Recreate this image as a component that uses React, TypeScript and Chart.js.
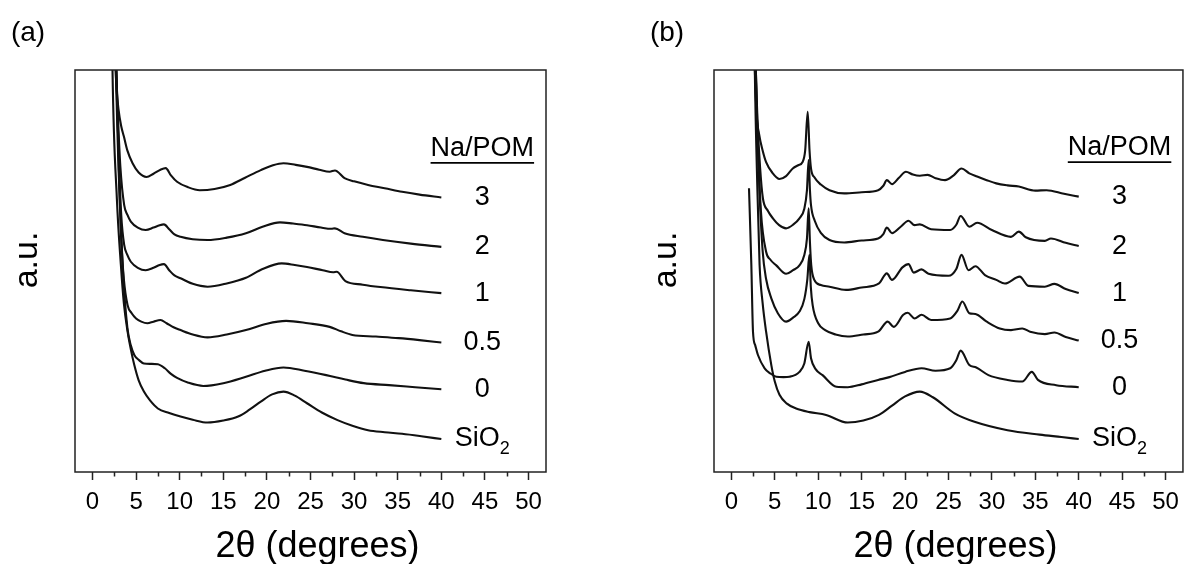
import React, { useEffect, useRef } from 'react';
import { Chart, registerables } from 'chart.js';

Chart.register(...registerables);

type Pt = [number, number];

const FONT = "'Liberation Sans', Arial, sans-serif";

// ---- axis / label text ----
const majorTicks = [0, 5, 10, 15, 20, 25, 30, 35, 40, 45, 50];
const minorTicks = [2.5, 7.5, 12.5, 17.5, 22.5, 27.5, 32.5, 37.5, 42.5, 47.5];
const seriesLabels = ['3', '2', '1', '0.5', '0', 'SiO2'];
const headerLabel = 'Na/POM';
const xTitle = '2θ (degrees)';
const yTitle = 'a.u.';

// ---- panel (a) series: [2θ, intensity a.u.] ----
const a3: Pt[] = [[2.2, 160], [2.5, 110], [2.75, 96], [3.0, 90], [3.3, 86], [3.6, 83.5], [4.0, 80], [4.6, 76.8], [5.3, 74.5], [6.2, 73.4], [7.0, 74.2], [7.8, 75.2], [8.4, 75.6], [9.0, 73.8], [9.7, 72.2], [11.0, 70.8], [12.3, 70.1], [14.0, 70.4], [15.8, 71.4], [17.5, 73.2], [19.3, 75.1], [20.7, 76.3], [21.9, 76.8], [23.3, 76.4], [24.6, 75.9], [26.0, 75.2], [27.2, 74.7], [27.8, 75.0], [28.9, 73.1], [30.0, 72.3], [31.6, 71.4], [33.5, 70.6], [35.5, 69.7], [37.5, 69.0], [40.0, 68.3]];
const a2: Pt[] = [[2.2, 160], [2.6, 110], [2.9, 90], [3.2, 76], [3.64, 66.4], [4.0, 64], [4.4, 62.3], [5.2, 60.8], [6.1, 60.2], [7.0, 60.8], [7.6, 61.3], [8.2, 61.6], [8.8, 60.4], [9.4, 59.1], [10.1, 58.5], [11.5, 57.9], [13.2, 57.7], [15.4, 58.3], [17.6, 59.4], [19.5, 61.0], [21.5, 62.1], [23.0, 61.8], [24.6, 61.4], [26.2, 60.8], [27.4, 60.5], [27.8, 60.6], [28.9, 59.4], [31.0, 58.5], [33.3, 57.7], [36.5, 56.8], [40.0, 56.0]];
const a1: Pt[] = [[2.2, 160], [2.6, 110], [3.0, 80], [3.3, 64], [3.64, 56.5], [4.0, 54], [4.4, 52.3], [5.2, 50.8], [6.1, 50.2], [7.0, 50.8], [7.7, 51.5], [8.2, 51.7], [8.8, 50.2], [9.4, 48.9], [10.1, 48.2], [11.5, 46.8], [13.2, 46.1], [15.4, 46.9], [17.6, 48.3], [19.5, 50.5], [21.7, 51.9], [23.2, 51.5], [24.6, 51.0], [26.4, 50.2], [27.6, 49.7], [28.0, 49.8], [29.0, 47.5], [31.0, 46.6], [33.0, 46.0], [36.5, 45.2], [40.0, 44.5]];
const a05: Pt[] = [[2.3, 160], [2.7, 100], [3.0, 75], [3.3, 58], [3.6, 48], [4.03, 41.5], [4.5, 39.5], [5.0, 38.2], [5.6, 37.4], [6.3, 37.0], [7.0, 37.4], [7.8, 37.8], [8.5, 37.0], [9.3, 36.0], [10.1, 35.3], [11.5, 34.2], [13.2, 33.5], [15.4, 34.2], [17.6, 35.3], [20.0, 36.9], [22.2, 37.6], [24.7, 37.0], [27.2, 36.1], [28.5, 35.0], [29.8, 34.1], [32.5, 33.7], [35.1, 33.3], [37.5, 32.8], [40.0, 32.2]];
const a0: Pt[] = [[2.3, 160], [2.75, 100], [3.1, 70], [3.5, 50], [4.0, 36], [4.4, 31.5], [4.8, 29.1], [5.3, 27.9], [5.9, 27.0], [6.7, 26.9], [7.5, 26.8], [8.3, 25.8], [9.0, 24.4], [9.7, 23.4], [11.0, 22.2], [12.7, 21.4], [15.0, 22.1], [17.6, 23.7], [19.8, 25.2], [21.9, 26.0], [24.3, 25.2], [26.8, 24.1], [29.0, 23.0], [31.1, 22.1], [34.0, 21.6], [37.0, 21.1], [40.0, 20.6]];
const aSiO2: Pt[] = [[2.0, 160], [2.3, 100], [2.8, 68], [3.26, 51.5], [3.6, 42], [4.03, 34.9], [4.4, 30.5], [4.8, 26.6], [5.3, 22.8], [5.9, 20.0], [6.6, 17.8], [7.5, 15.8], [8.8, 14.7], [10.1, 13.8], [11.5, 13.0], [13.2, 12.3], [15.0, 12.8], [16.7, 13.8], [18.0, 15.5], [19.3, 17.5], [20.6, 19.3], [21.9, 20.0], [23.2, 19.0], [24.6, 17.1], [26.3, 14.8], [28.1, 12.9], [29.8, 11.5], [31.6, 10.4], [33.5, 9.9], [35.5, 9.5], [37.7, 8.9], [40.0, 8.2]];

// ---- panel (b) series ----
const b3: Pt[] = [[2.3, 160], [2.6, 110], [2.88, 90], [3.2, 84], [3.6, 80], [4.0, 77.1], [4.7, 74.5], [5.54, 72.9], [6.3, 73.6], [7.07, 75.5], [7.7, 76.3], [8.2, 77.1], [8.5, 80], [8.79, 89.6], [9.0, 80], [9.17, 75.5], [9.6, 73.2], [10.3, 71.5], [11.3, 70.1], [13.0, 69.3], [15.0, 69.6], [16.9, 70.1], [17.5, 71.2], [17.9, 72.6], [18.5, 71.6], [19.3, 73.2], [20.1, 74.7], [20.9, 74.0], [21.7, 73.7], [22.6, 73.9], [23.5, 73.1], [24.6, 72.6], [25.6, 73.8], [26.5, 75.5], [27.4, 74.3], [28.3, 73.5], [29.4, 72.6], [30.5, 71.8], [31.8, 71.3], [33.1, 71.0], [35.0, 70.0], [36.3, 70.1], [38.3, 69.2], [40.0, 68.5]];
const b2: Pt[] = [[2.3, 160], [2.7, 110], [3.0, 88], [3.3, 76], [3.63, 68.1], [4.2, 65], [4.78, 63.1], [5.5, 61.4], [6.3, 60.6], [7.1, 61.5], [7.84, 63.1], [8.4, 65.5], [8.7, 70], [8.9, 77.6], [9.05, 70], [9.17, 66.4], [9.6, 62.5], [10.3, 59.5], [11.3, 57.7], [13.0, 57.1], [15.0, 57.6], [16.9, 58.1], [17.5, 59.2], [17.9, 60.8], [18.5, 59.4], [19.5, 61.0], [20.4, 62.5], [21.1, 61.4], [21.7, 61.6], [23.0, 60.4], [25.2, 60.2], [25.9, 61.5], [26.4, 63.7], [27.4, 61.0], [28.3, 62.0], [30.0, 60.2], [32.2, 58.5], [33.1, 59.8], [33.9, 58.4], [36.1, 57.5], [36.8, 58.1], [38.5, 57.0], [40.0, 56.2]];
const b1: Pt[] = [[2.3, 160], [2.7, 110], [3.0, 85], [3.4, 65], [4.0, 54.8], [4.5, 52.8], [5.17, 51.4], [6.3, 49.3], [7.1, 50.2], [7.84, 51.4], [8.4, 54], [8.7, 58], [8.9, 65.6], [9.05, 57], [9.2, 51.4], [9.55, 47.8], [10.3, 46.5], [11.3, 46.1], [13.2, 45.3], [15.0, 45.9], [17.0, 46.9], [17.9, 49.4], [18.5, 47.8], [19.7, 50.9], [20.4, 51.7], [21.0, 49.6], [21.9, 50.4], [22.7, 49.3], [25.0, 48.8], [25.9, 50.5], [26.5, 54.0], [27.3, 50.2], [28.1, 51.2], [29.2, 49.0], [30.5, 47.8], [31.5, 46.9], [33.2, 48.6], [34.2, 46.3], [36.1, 46.1], [37.2, 46.8], [38.5, 45.5], [40.0, 44.5]];
const b05: Pt[] = [[2.4, 160], [2.8, 100], [3.2, 72], [3.6, 55], [4.0, 48], [4.6, 43.2], [5.35, 39.5], [6.3, 37.4], [7.1, 38.4], [7.84, 39.9], [8.4, 43], [8.75, 48], [8.98, 54.0], [9.15, 46], [9.36, 41.5], [10.0, 37.0], [10.8, 35.3], [12.0, 34.2], [13.4, 33.7], [15.2, 34.2], [16.9, 34.9], [18.0, 37.4], [18.7, 36.1], [19.8, 39.1], [20.3, 39.6], [21.1, 38.2], [21.9, 39.1], [23.0, 37.8], [25.2, 38.2], [26.0, 40.0], [26.6, 42.4], [27.4, 39.5], [28.1, 39.3], [29.4, 37.4], [30.9, 35.7], [32.2, 35.3], [33.5, 35.7], [34.4, 34.9], [36.1, 34.3], [37.2, 34.7], [38.5, 33.6], [40.0, 32.7]];
const b0: Pt[] = [[2.03, 70.6], [2.3, 51.5], [2.49, 34.9], [2.75, 31.5], [3.06, 29.1], [3.83, 25.8], [4.5, 24.5], [5.17, 23.7], [6.0, 23.6], [6.7, 23.7], [7.84, 24.9], [8.4, 27], [8.9, 32.4], [9.17, 28.3], [9.7, 25.6], [10.5, 24.1], [12.1, 21.2], [13.4, 21.1], [15.0, 21.8], [16.9, 22.9], [18.2, 23.6], [20.0, 24.9], [21.9, 25.8], [23.5, 25.2], [25.2, 25.8], [25.9, 27.8], [26.4, 30.2], [27.4, 26.6], [28.2, 26.0], [29.6, 24.1], [31.8, 22.9], [33.5, 22.5], [34.6, 24.9], [35.3, 22.9], [37.4, 21.6], [40.0, 21.1]];
const bSiO2: Pt[] = [[2.4, 160], [2.7, 100], [3.0, 70], [3.25, 51.5], [3.6, 42], [4.0, 34.9], [4.6, 26.6], [5.0, 22.5], [5.54, 19.2], [6.4, 17.0], [7.45, 15.8], [9.0, 14.9], [10.9, 14.2], [13.4, 12.3], [15.2, 12.8], [17.0, 14.2], [18.5, 16.5], [20.0, 18.8], [21.7, 20.0], [23.2, 18.6], [25.7, 14.6], [28.0, 12.5], [31.8, 10.4], [35.5, 9.3], [38.0, 8.7], [40.0, 8.2]];

const panelASeries = [a3, a2, a1, a05, a0, aSiO2];
const panelBSeries = [b3, b2, b1, b05, b0, bSiO2];

interface PanelProps {
  tag: string;
  series: Pt[][];
  width: number;
  left: number;
  padLeft: number;
  padRight: number;
}

function Panel({ tag, series, width, left, padLeft, padRight }: PanelProps) {
  const ref = useRef<HTMLCanvasElement>(null);

  useEffect(() => {
    if (!ref.current) return;
    const labelX = 44.7;

    const overlay = {
      id: 'overlay',
      afterDraw(chart: any) {
        const { ctx, chartArea: ca, scales } = chart;
        const xs = scales.x;
        const ys = scales.y;
        ctx.save();
        // frame
        ctx.strokeStyle = '#222';
        ctx.lineWidth = 1.5;
        ctx.strokeRect(ca.left, ca.top, ca.right - ca.left, ca.bottom - ca.top);
        // minor ticks
        ctx.beginPath();
        minorTicks.forEach((v) => {
          const px = Math.round(xs.getPixelForValue(v)) + 0.5;
          ctx.moveTo(px, ca.bottom);
          ctx.lineTo(px, ca.bottom + 4.5);
        });
        ctx.stroke();

        // series labels
        ctx.fillStyle = '#000';
        ctx.textAlign = 'center';
        ctx.textBaseline = 'middle';
        const lx = xs.getPixelForValue(labelX);
        series.forEach((s, i) => {
          const py = ys.getPixelForValue(s[s.length - 1][1]);
          const name = seriesLabels[i];
          if (name === 'SiO2') {
            ctx.font = `27px ${FONT}`;
            const main = 'SiO';
            const w1 = ctx.measureText(main).width;
            ctx.font = `18px ${FONT}`;
            const w2 = ctx.measureText('2').width;
            const x0 = lx - (w1 + w2) / 2;
            ctx.textAlign = 'left';
            ctx.font = `27px ${FONT}`;
            ctx.fillText(main, x0, py);
            ctx.font = `18px ${FONT}`;
            ctx.fillText('2', x0 + w1, py + 10);
            ctx.textAlign = 'center';
          } else {
            ctx.font = `27px ${FONT}`;
            ctx.fillText(name, lx, py);
          }
        });

        // header (underlined)
        ctx.font = `27px ${FONT}`;
        const topY = ys.getPixelForValue(series[0][series[0].length - 1][1]);
        const hy = topY - 49;
        ctx.fillText(headerLabel, lx, hy);
        const hw = ctx.measureText(headerLabel).width;
        ctx.lineWidth = 1.7;
        ctx.strokeStyle = '#000';
        ctx.beginPath();
        ctx.moveTo(lx - hw / 2, hy + 14.5);
        ctx.lineTo(lx + hw / 2, hy + 14.5);
        ctx.stroke();

        // x title
        ctx.font = `36px ${FONT}`;
        ctx.fillText(xTitle, (ca.left + ca.right) / 2 + 7, 547);

        // panel tag
        ctx.font = `28px ${FONT}`;
        ctx.fillText(tag, ca.left - 47, 33);

        // y title
        ctx.save();
        ctx.translate(ca.left - 47.5, (ca.top + ca.bottom) / 2 - 11);
        ctx.rotate(-Math.PI / 2);
        ctx.font = `34px ${FONT}`;
        ctx.fillText(yTitle, 0, 0);
        ctx.restore();

        ctx.restore();
      },
    };

    const chart = new Chart(ref.current, {
      type: 'line',
      data: {
        datasets: series.map((s, i) => ({
          label: seriesLabels[i],
          data: s.map(([x, y]) => ({ x, y })),
          borderColor: '#111',
          borderWidth: 2.1,
          pointRadius: 0,
          fill: false,
          cubicInterpolationMode: 'monotone' as const,
        })),
      },
      options: {
        animation: false,
        responsive: false,
        devicePixelRatio: 1,
        layout: { padding: { left: padLeft, right: padRight, top: 70, bottom: 0 } },
        plugins: { legend: { display: false }, tooltip: { enabled: false } },
        scales: {
          x: {
            type: 'linear',
            min: -2,
            max: 52,
            afterBuildTicks: (scale: any) => {
              scale.ticks = majorTicks.map((v) => ({ value: v }));
            },
            afterFit: (scale: any) => {
              scale.height = 92;
            },
            ticks: {
              autoSkip: false,
              maxRotation: 0,
              padding: 8,
              color: '#000',
              font: { size: 24, family: FONT },
              callback: (v: any) => String(v),
            },
            grid: {
              display: true,
              drawOnChartArea: false,
              drawTicks: true,
              tickLength: 8,
              tickColor: '#222',
              tickWidth: 1.5,
            },
            border: { display: false },
            title: { display: false },
          },
          y: { display: false, min: 0, max: 100 },
        },
      },
      plugins: [overlay],
    });
    return () => chart.destroy();
  }, [tag, series, width, padLeft, padRight]);

  return (
    <canvas
      ref={ref}
      width={width}
      height={564}
      style={{ position: 'absolute', left, top: 0, width, height: 564 }}
    />
  );
}

export default function App() {
  return (
    <div style={{ position: 'absolute', left: 0, top: 0, width: 1187, height: 564, background: '#fff', overflow: 'hidden' }}>
      <Panel tag="(a)" series={panelASeries} width={593} left={0} padLeft={75} padRight={47} />
      <Panel tag="(b)" series={panelBSeries} width={594} left={593} padLeft={121} padRight={2} />
    </div>
  );
}
